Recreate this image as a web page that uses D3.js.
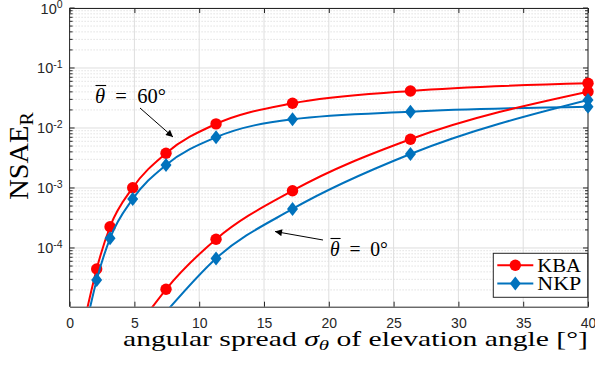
<!DOCTYPE html>
<html>
<head>
<meta charset="utf-8">
<script src="https://cdn.jsdelivr.net/npm/d3@7"></script>
<style>
  body { margin: 0; background: #fff; }
  svg { display: block; }
</style>
</head>
<body>
<script>
// marker positions (angular spread, degrees)
var sigma = [2.09, 3.12, 4.87, 7.44, 11.3, 17.2, 26.3, 40];

// mean elevation 60 deg
var kba60 = [4.47e-5, 2.26e-4, 1.01e-3, 3.8e-3, 1.17e-2, 2.58e-2, 4.14e-2, 5.56e-2];
var nkp60 = [2.93e-5, 1.45e-4, 6.56e-4, 2.42e-3, 7.0e-3, 1.4e-2, 1.87e-2, 2.26e-2];
// mean elevation 0 deg (starts at sigma[3])
var kba0 = [2.05e-5, 1.4e-4, 9.0e-4, 6.5e-3, 4.03e-2];
var nkp0 = [8.6e-6, 6.7e-5, 4.47e-4, 3.69e-3, 2.93e-2];

// where each curve leaves the bottom of the axes
var tails = {kba60: [1.37, 1e-5], nkp60: [1.57, 1e-5], kba0: [6.33, 1e-5], nkp0: null};

var xTicks = [0, 5, 10, 15, 20, 25, 30, 35, 40];
var yTicks = [-4, -3, -2, -1, 0];

var W = 595, H = 365;
var margin = {left: 69.6, right: 7, top: 8, bottom: 58.3};
var width = W - margin.left - margin.right,
    height = H - margin.top - margin.bottom;

var red = "#ff0000", blue = "#0072bd", axc = "#262626";
var sans = "'Liberation Sans', Arial, sans-serif";
var serif = "'Liberation Serif', 'Times New Roman', serif";

var x = d3.scaleLinear().domain([0, 40]).range([0, width]);
var y = d3.scaleLog().domain([1.05e-5, 1]).range([height, 0]);

var svg = d3.select("body").append("svg")
    .attr("width", W).attr("height", H);

var defs = svg.append("defs");
defs.append("clipPath").attr("id", "clip")
  .append("rect").attr("width", width).attr("height", height);
defs.append("marker").attr("id", "head")
    .attr("viewBox", "0 -5 10 10")
    .attr("refX", 10).attr("refY", 0)
    .attr("markerWidth", 9).attr("markerHeight", 7)
    .attr("markerUnits", "userSpaceOnUse")
    .attr("orient", "auto")
  .append("path").attr("d", "M0,-5L10,0L0,5Z").attr("fill", "#000");

var g = svg.append("g")
    .attr("transform", "translate(" + margin.left + "," + margin.top + ")");

// stretch a text horizontally so it gets the target width (LaTeX font is wider)
function fit(sel, target, cx, cy, rot) {
  var w = sel.node().getBBox().width;
  sel.attr("transform", "translate(" + cx + "," + cy + ")" + (rot ? " rotate(" + rot + ")" : "") +
    " scale(" + (target / w) + ",1)");
}

// minor grid
var minors = [];
for (var e = -5; e < 0; e++)
  for (var k = 2; k <= 9; k++)
    if (k * Math.pow(10, e) > 1.05e-5) minors.push(k * Math.pow(10, e));

g.selectAll(".mgrid").data(minors).enter().append("line")
    .attr("x1", 0).attr("x2", width)
    .attr("y1", function(d) { return y(d); }).attr("y2", function(d) { return y(d); })
    .attr("stroke", "#c8c8c8").attr("stroke-width", 0.8)
    .attr("stroke-dasharray", "1,2");

// major grid
g.selectAll(".ygrid").data(yTicks).enter().append("line")
    .attr("x1", 0).attr("x2", width)
    .attr("y1", function(d) { return y(Math.pow(10, d)); })
    .attr("y2", function(d) { return y(Math.pow(10, d)); })
    .attr("stroke", "#dedede").attr("stroke-width", 1);
g.selectAll(".xgrid").data(xTicks).enter().append("line")
    .attr("y1", 0).attr("y2", height)
    .attr("x1", function(d) { return x(d); }).attr("x2", function(d) { return x(d); })
    .attr("stroke", "#dedede").attr("stroke-width", 1);

// axes (ticks inside, box on)
g.append("g").attr("transform", "translate(0," + height + ")")
  .call(d3.axisBottom(x).tickValues(xTicks).tickSizeInner(-5).tickSizeOuter(0).tickPadding(11))
  .call(function(s) {
    s.select(".domain").attr("stroke", axc);
    s.selectAll(".tick line").attr("stroke", axc);
    s.selectAll("text").attr("fill", axc)
      .style("font-family", sans).style("font-size", "14px");
  });
g.append("g")
  .call(d3.axisTop(x).tickValues(xTicks).tickSizeInner(-5).tickSizeOuter(0).tickFormat(""))
  .call(function(s) { s.select(".domain").attr("stroke", axc); s.selectAll(".tick line").attr("stroke", axc); });

[0, width].forEach(function(xp, i) {
  var dir = i === 0 ? 1 : -1;
  g.append("line").attr("x1", xp).attr("x2", xp).attr("y1", 0).attr("y2", height).attr("stroke", axc);
  g.selectAll(null).data(yTicks).enter().append("line")
    .attr("x1", xp).attr("x2", xp + dir * 5)
    .attr("y1", function(d) { return y(Math.pow(10, d)); })
    .attr("y2", function(d) { return y(Math.pow(10, d)); })
    .attr("stroke", axc);
  g.selectAll(null).data(minors).enter().append("line")
    .attr("x1", xp).attr("x2", xp + dir * 3)
    .attr("y1", function(d) { return y(d); }).attr("y2", function(d) { return y(d); })
    .attr("stroke", axc);
});

// y tick labels 10^n
var ylab = g.selectAll(".ylab").data(yTicks).enter().append("text")
    .attr("x", -7)
    .attr("y", function(d) { return y(Math.pow(10, d)) + 5.5; })
    .attr("text-anchor", "end")
    .attr("fill", axc)
    .style("font-family", sans)
    .style("font-size", "14.5px");
ylab.append("tspan").text("10");
ylab.append("tspan").attr("dy", -5.5).style("font-size", "10.5px")
    .text(function(d) { return d === 0 ? "0" : "-" + (-d); });

// series
var line = d3.line()
    .x(function(d) { return x(d[0]); })
    .y(function(d) { return y(d[1]); })
    .curve(d3.curveMonotoneX);

function pts(xs, ys, tail) {
  var p = xs.map(function(v, i) { return [v, ys[i]]; });
  if (tail) p.unshift(tail);
  return p;
}

var series = [
  {name: "kba60", color: red, sym: "o", xs: sigma, ys: kba60},
  {name: "nkp60", color: blue, sym: "d", xs: sigma, ys: nkp60},
  {name: "kba0", color: red, sym: "o", xs: sigma.slice(3), ys: kba0},
  {name: "nkp0", color: blue, sym: "d", xs: sigma.slice(3), ys: nkp0}
];

var diamond = "M0,-7L5.5,0L0,7L-5.5,0Z";

function drawMarker(sel, sym, color) {
  if (sym === "o") sel.append("circle").attr("r", 5.7).attr("fill", color);
  else sel.append("path").attr("d", diamond).attr("fill", color);
}

series.forEach(function(s) {
  g.append("path")
    .datum(pts(s.xs, s.ys, tails[s.name]))
    .attr("clip-path", "url(#clip)")
    .attr("fill", "none")
    .attr("stroke", s.color)
    .attr("stroke-width", 2)
    .attr("d", line);
  s.xs.forEach(function(v, i) {
    if (s.ys[i] < 1.05e-5) return;
    var m = g.append("g").attr("transform", "translate(" + x(v) + "," + y(s.ys[i]) + ")");
    drawMarker(m, s.sym, s.color);
  });
});

// annotations  (theta with overline)
function thetaLabel(px, py, deg, target) {
  var grp = svg.append("g");
  var t = grp.append("text").attr("x", 0).attr("y", 0)
      .attr("xml:space", "preserve")
      .style("font-family", serif).style("font-size", "20.5px");
  var th = t.append("tspan").style("font-style", "italic").text("θ");
  t.append("tspan").text("  =  " + deg + "°");
  var w = th.node().getComputedTextLength();
  grp.append("line").attr("x1", 0.5).attr("x2", w + 1)
    .attr("y1", -17.5).attr("y2", -17.5)
    .attr("stroke", "#000").attr("stroke-width", 1.1);
  var bw = t.node().getBBox().width;
  grp.attr("transform", "translate(" + px + "," + py + ") scale(" + (target / bw) + ",1)");
}
thetaLabel(95, 103, 60, 71);
thetaLabel(330, 256, 0, 58);

svg.append("line").attr("x1", 140).attr("y1", 108).attr("x2", 173).attr("y2", 137)
  .attr("stroke", "#000").attr("stroke-width", 1).attr("marker-end", "url(#head)");
svg.append("line").attr("x1", 323).attr("y1", 240).attr("x2", 275).attr("y2", 231.5)
  .attr("stroke", "#000").attr("stroke-width", 1).attr("marker-end", "url(#head)");

// x label
var xl = svg.append("text")
    .attr("text-anchor", "middle")
    .style("font-family", serif).style("font-size", "22px");
xl.append("tspan").text("angular spread ");
xl.append("tspan").style("font-style", "italic").text("σ");
xl.append("tspan").attr("dy", 4).style("font-style", "italic").style("font-size", "15.5px").text("θ");
xl.append("tspan").attr("dy", -4).text(" of elevation angle [°]");
fit(xl, 465, 355.5, 345.5);

// y label
var yl = svg.append("text")
    .attr("text-anchor", "middle")
    .style("font-family", serif).style("font-size", "27px");
yl.append("tspan").text("NSAE");
yl.append("tspan").attr("dy", 5).style("font-size", "19px").text("R");
fit(yl, 88, 28, 156, -90);

// legend
var lg = svg.append("g").attr("transform", "translate(493.3,253.3)");
lg.append("rect").attr("width", 94.4).attr("height", 44)
  .attr("fill", "#fff").attr("stroke", axc).attr("stroke-width", 1);
[{name: "KBA", color: red, sym: "o"}, {name: "NKP", color: blue, sym: "d"}].forEach(function(d, i) {
  var yy = 12 + i * 18.3;
  lg.append("line").attr("x1", 4).attr("x2", 40).attr("y1", yy).attr("y2", yy)
    .attr("stroke", d.color).attr("stroke-width", 2);
  var m = lg.append("g").attr("transform", "translate(22," + yy + ")");
  drawMarker(m, d.sym, d.color);
  var t = lg.append("text")
    .style("font-family", serif).style("font-size", "19px").text(d.name);
  var tw = t.node().getBBox().width;
  t.attr("transform", "translate(44," + (yy + 6.5) + ") scale(" + (44 / tw) + ",1)");
});
</script>
</body>
</html>
